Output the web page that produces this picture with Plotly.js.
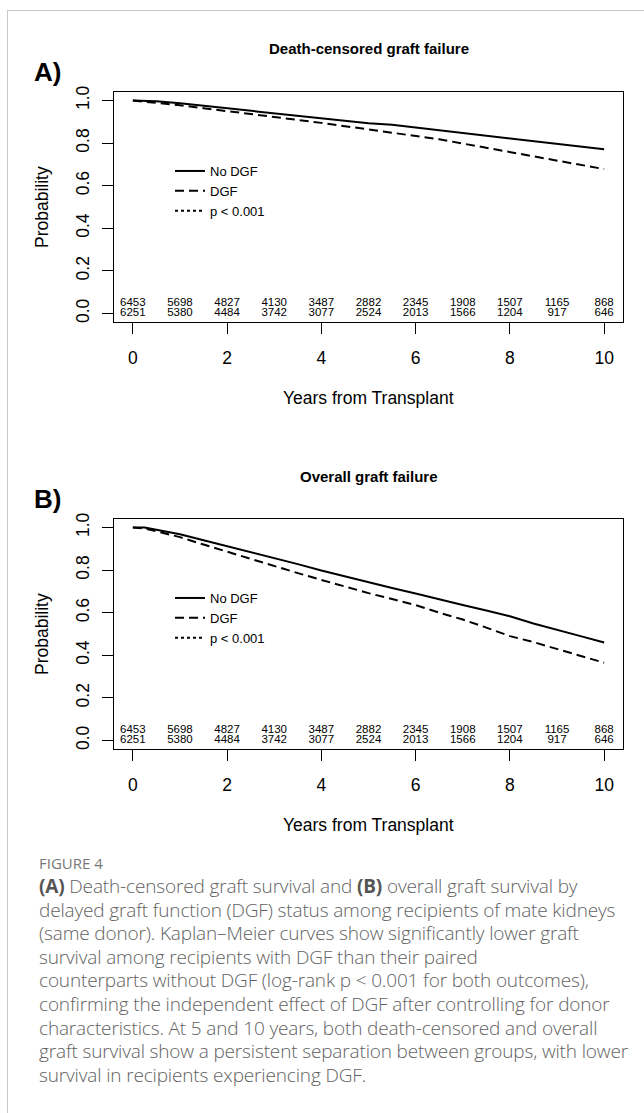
<!DOCTYPE html>
<html>
<head>
<meta charset="utf-8">
<script src="https://cdn.plot.ly/plotly-3.0.1.min.js"></script>
<style>
  html, body { margin:0; padding:0; background:#fff; width:644px; height:1113px; overflow:hidden; }
  #card { position:absolute; left:7px; top:10px; width:700px; height:1200px;
          border-top:1.5px solid #c8c8c8; border-left:1.5px solid #c8c8c8; }
  #plot { position:absolute; left:0; top:0; width:644px; height:1113px; }
  #cap { position:absolute; left:39px; top:851px; font-family:'Open Sans', 'Noto Sans', sans-serif;
         font-weight:300; color:#626262; font-size:19px; line-height:23.6px; white-space:nowrap; letter-spacing:-0.15px; }
  #cap .fig { font-size:15px; font-weight:400; color:#777; letter-spacing:0px; line-height:24px; }
  #cap b { color:#555; font-weight:700; }
</style>
</head>
<body>
<div id="card"></div>
<div id="plot"></div>
<div id="cap">
  <div class="fig">FIGURE 4</div>
  <b>(A)</b> Death-censored graft survival and <b>(B)</b> overall graft survival by<br>
  delayed graft function (DGF) status among recipients of mate kidneys<br>
  (same donor). Kaplan–Meier curves show significantly lower graft<br>
  survival among recipients with DGF than their paired<br>
  counterparts without DGF (log-rank p &lt; 0.001 for both outcomes),<br>
  confirming the independent effect of DGF after controlling for donor<br>
  characteristics. At 5 and 10 years, both death-censored and overall<br>
  graft survival show a persistent separation between groups, with lower<br>
  survival in recipients experiencing DGF.
</div>
<script>
// ---------------- data ----------------
const curveTimes = [0, 0.25, 0.5, 1, 1.5, 2, 2.5, 3, 3.5, 4, 4.5, 5, 5.5, 6, 6.5, 7, 7.5, 8, 8.5, 9, 9.5, 10];

// Panel A: death-censored graft failure
const deathCensoredNoDGF = [1.0, 1.0, 0.997, 0.987, 0.975, 0.963, 0.952, 0.941, 0.928, 0.916, 0.904, 0.893, 0.886, 0.873, 0.860, 0.848, 0.836, 0.823, 0.810, 0.797, 0.785, 0.771];
const deathCensoredDGF   = [1.0, 0.995, 0.990, 0.978, 0.964, 0.951, 0.938, 0.924, 0.909, 0.895, 0.880, 0.866, 0.850, 0.836, 0.818, 0.798, 0.778, 0.757, 0.740, 0.718, 0.697, 0.678];

// Panel B: overall graft failure
const overallNoDGF = [1.0, 1.0, 0.990, 0.968, 0.940, 0.912, 0.885, 0.858, 0.828, 0.798, 0.770, 0.742, 0.716, 0.690, 0.662, 0.636, 0.610, 0.583, 0.549, 0.518, 0.490, 0.460];
const overallDGF   = [1.0, 0.995, 0.982, 0.955, 0.920, 0.886, 0.853, 0.820, 0.786, 0.754, 0.722, 0.692, 0.664, 0.636, 0.600, 0.568, 0.530, 0.490, 0.462, 0.430, 0.400, 0.365];

// Numbers at risk
const riskYears   = [0, 1, 2, 3, 4, 5, 6, 7, 8, 9, 10];
const atRiskNoDGF = [6453, 5698, 4827, 4130, 3487, 2882, 2345, 1908, 1507, 1165, 868];
const atRiskDGF   = [6251, 5380, 4484, 3742, 3077, 2524, 2013, 1566, 1204, 917, 646];

const xTickVals = [0, 2, 4, 6, 8, 10];
const yTickVals = [0, 0.2, 0.4, 0.6, 0.8, 1.0];
const yTickText = ['0.0', '0.2', '0.4', '0.6', '0.8', '1.0'];

const seriesNames = ['No DGF', 'DGF', 'p &lt; 0.001'];
const panelTitles = ['Death-censored graft failure', 'Overall graft failure'];
const panelLabels = ['A)', 'B)'];
const xTitle = 'Years from Transplant';
const yTitle = 'Probability';

// ---------------- layout geometry ----------------
const W = 644, H = 1113;
const FONT = 'Liberation Sans, Arial, Helvetica, sans-serif';
const boxLeft = 114, boxRight = 623;
const panelTop = [92, 519];
const boxH = 230;
const fx = px => px / W;
const fy = py => 1 - py / H;

const traces = [];
const panels = [
  {noDGF: deathCensoredNoDGF, dgf: deathCensoredDGF},
  {noDGF: overallNoDGF, dgf: overallDGF}
];

panels.forEach((p, i) => {
  const xa = i === 0 ? 'x' : 'x2';
  const ya = i === 0 ? 'y' : 'y2';
  const lg = i === 0 ? 'legend' : 'legend2';
  traces.push({x: curveTimes, y: p.noDGF, xaxis: xa, yaxis: ya, mode: 'lines', name: seriesNames[0],
               legend: lg, line: {color: 'black', width: 2}, hoverinfo: 'skip'});
  traces.push({x: curveTimes, y: p.dgf, xaxis: xa, yaxis: ya, mode: 'lines', name: seriesNames[1],
               legend: lg, line: {color: 'black', width: 2, dash: '9px,5px'}, hoverinfo: 'skip'});
  traces.push({x: [null], y: [null], xaxis: xa, yaxis: ya, mode: 'lines', name: seriesNames[2],
               legend: lg, line: {color: 'black', width: 2, dash: '3px,3px'}, hoverinfo: 'skip'});
  traces.push({x: riskYears, y: riskYears.map(() => 0.047), xaxis: xa, yaxis: ya, mode: 'text',
               text: atRiskNoDGF.map(String), textposition: 'middle center', showlegend: false,
               textfont: {family: FONT, size: 11.5, color: 'black'}, hoverinfo: 'skip'});
  traces.push({x: riskYears, y: riskYears.map(() => 0.0), xaxis: xa, yaxis: ya, mode: 'text',
               text: atRiskDGF.map(String), textposition: 'middle center', showlegend: false,
               textfont: {family: FONT, size: 11.5, color: 'black'}, hoverinfo: 'skip'});
});

function xAxis(i) {
  return {
    domain: [fx(boxLeft), fx(boxRight)], anchor: i === 0 ? 'y' : 'y2',
    range: [-0.4, 10.4], tickvals: xTickVals, ticks: 'outside', ticklen: 11, tickwidth: 1.2,
    tickcolor: 'black', showline: true, mirror: true, linecolor: 'black', linewidth: 1.3,
    showgrid: false, zeroline: false, ticklabelstandoff: 9,
    tickfont: {family: FONT, size: 17.5, color: 'black'}, fixedrange: true
  };
}
function yAxis(i) {
  const top = panelTop[i];
  return {
    domain: [fy(top + boxH), fy(top)], anchor: i === 0 ? 'x' : 'x2',
    range: [-0.04, 1.04], tickvals: yTickVals, ticktext: yTickText, tickangle: -90,
    ticks: 'outside', ticklen: 11, tickwidth: 1.2, tickcolor: 'black',
    showline: true, mirror: true, linecolor: 'black', linewidth: 1.3,
    showgrid: false, zeroline: false, ticklabelstandoff: 6,
    tickfont: {family: FONT, size: 17.5, color: 'black'}, fixedrange: true
  };
}

const annotations = [];
[0, 1].forEach(i => {
  const off = i * 427;
  annotations.push({text: '<b>' + panelTitles[i] + '</b>', x: fx(368.5), y: fy(49 + off), xref: 'paper', yref: 'paper',
    xanchor: 'center', yanchor: 'middle', showarrow: false, font: {family: FONT, size: 15, color: 'black'}});
  annotations.push({text: '<b>' + panelLabels[i] + '</b>', x: fx(32), y: fy(72 + off), xref: 'paper', yref: 'paper',
    xanchor: 'left', yanchor: 'middle', showarrow: false, font: {family: FONT, size: 26, color: 'black'}});
  annotations.push({text: yTitle, x: fx(42), y: fy(207 + off), xref: 'paper', yref: 'paper', textangle: -90,
    xanchor: 'center', yanchor: 'middle', showarrow: false, font: {family: FONT, size: 17.5, color: 'black'}});
  annotations.push({text: xTitle, x: fx(368.5), y: fy(398 + off), xref: 'paper', yref: 'paper',
    xanchor: 'center', yanchor: 'middle', showarrow: false, font: {family: FONT, size: 17.5, color: 'black'}});
});

function legendCfg(i) {
  return {x: fx(170), xanchor: 'left', y: fy(156 + i * 427), yanchor: 'top', bgcolor: 'rgba(0,0,0,0)',
          borderwidth: 0, font: {family: FONT, size: 13, color: 'black'}, tracegroupgap: 0,
          itemclick: false, itemdoubleclick: false};
}

const layout = {
  width: W, height: H, margin: {l: 0, r: 0, t: 0, b: 0},
  paper_bgcolor: 'rgba(0,0,0,0)', plot_bgcolor: 'rgba(0,0,0,0)',
  showlegend: true,
  xaxis: xAxis(0), yaxis: yAxis(0), xaxis2: xAxis(1), yaxis2: yAxis(1),
  legend: legendCfg(0), legend2: legendCfg(1),
  annotations: annotations
};

Plotly.newPlot('plot', traces, layout, {staticPlot: true, displayModeBar: false});
</script>
</body>
</html>
